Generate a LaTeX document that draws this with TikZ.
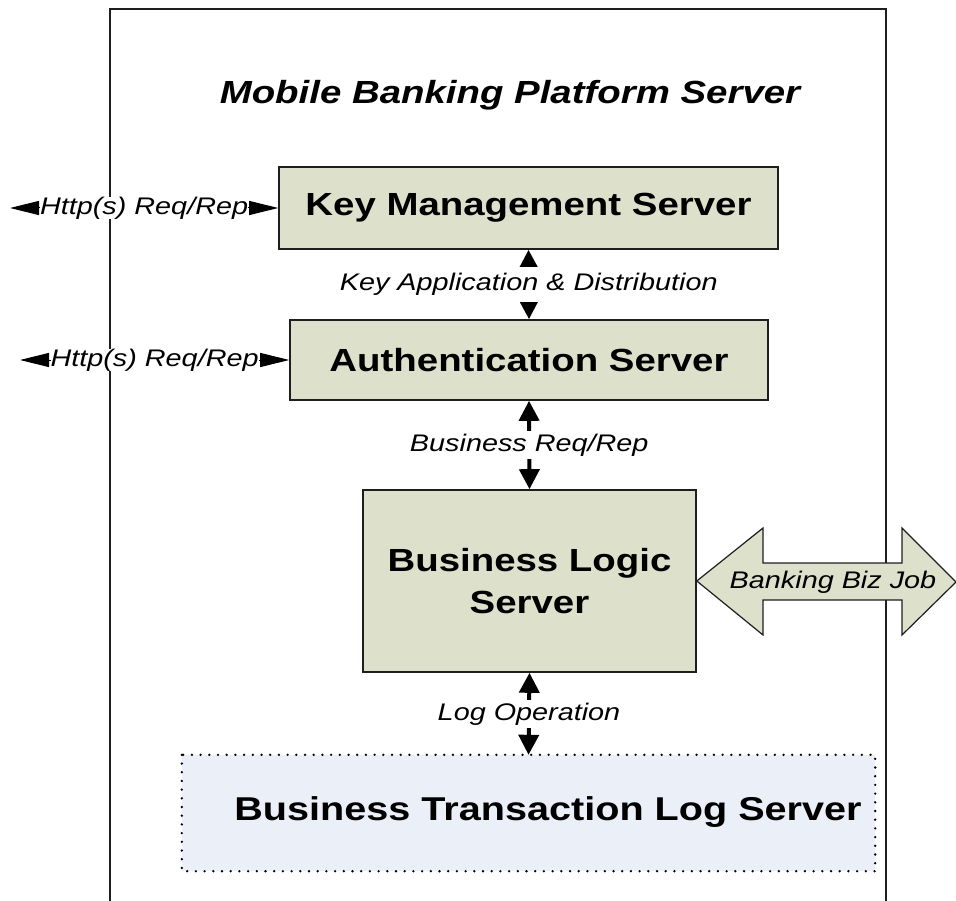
\documentclass[tikz,border=0pt]{standalone}
\usepackage{fontspec}
\setmainfont[FakeStretch=1.2]{Liberation Sans}
\usetikzlibrary{arrows.meta}
\definecolor{boxfill}{RGB}{221,224,203}
\definecolor{logfill}{RGB}{235,239,247}
\definecolor{edge}{RGB}{30,30,30}
\tikzset{
  srv/.style={draw=edge, line width=1.6pt, fill=boxfill, inner sep=0pt, align=center,
    font=\fontsize{32}{42}\selectfont\bfseries},
  lbl/.style={fill=white, inner xsep=1pt, inner ysep=3pt, font=\fontsize{24}{26}\selectfont\itshape},
  varrow/.style={line width=4pt, {Triangle[width=20pt,length=20pt]}-{Triangle[width=20pt,length=20pt]}},
  harrow/.style={line width=1pt, {Triangle[width=14pt,length=29pt]}-{Triangle[width=14pt,length=29pt]}},
}
\begin{document}
\begin{tikzpicture}[x=1pt,y=-1pt]
\useasboundingbox (0,0) rectangle (956,901);
% outer frame (open at bottom)
\draw[edge, line width=1.8pt] (110,901) -- (110,9) -- (886,9) -- (886,901);
\node[font=\fontsize{32}{36}\selectfont\bfseries\itshape] (title) at (510,95) {Mobile Banking Platform Server};
% servers
\node[srv, minimum width=499pt, minimum height=82pt] (key) at (528.5,208) {Key Management Server};
\node[srv, minimum width=478pt, minimum height=80pt] (auth) at (529,360) {Authentication Server};
\node[srv, minimum width=333pt, minimum height=182pt] (logic) at (529.5,581) {Business Logic\\Server};
\node[fill=logfill, minimum width=693pt, minimum height=116pt, inner sep=0pt] (log) at (528.5,813) {};
\draw[line width=2.6pt, line cap=round, dash pattern=on 0pt off 8.7pt] (log.north west) rectangle (log.south east);
\node[font=\fontsize{33}{36}\selectfont\bfseries] (logtext) at (548,812) {Business Transaction Log Server};
% vertical connectors
\draw[varrow] (key.south) -- (auth.north) node[lbl, midway, inner ysep=6pt] {Key Application \& Distribution};
\draw[varrow] (auth.south) -- (logic.north) node[lbl, midway] {Business Req/Rep};
\draw[varrow] (logic.south) -- (log.north) node[lbl, midway] {Log Operation};
% http connectors
\coordinate (h1) at (10,208);
\coordinate (h2) at (20,360);
\draw[harrow] (h1) -- (key.west |- h1) node[lbl, midway, inner sep=0pt] {Http(s) Req/Rep};
\draw[harrow] (h2) -- (auth.west |- h2) node[lbl, midway, inner sep=0pt] {Http(s) Req/Rep};
% banking biz job block arrow
\draw[edge, line width=1.2pt, fill=boxfill] (logic.east) -- (763,528) -- (763,563) -- (902,563) -- (902,528) -- (956,582) -- (902,635) -- (902,600) -- (763,600) -- (763,635) -- cycle;
\node[font=\fontsize{24}{26}\selectfont\itshape] (biz) at (833,582) {Banking Biz Job};
\end{tikzpicture}
\end{document}
